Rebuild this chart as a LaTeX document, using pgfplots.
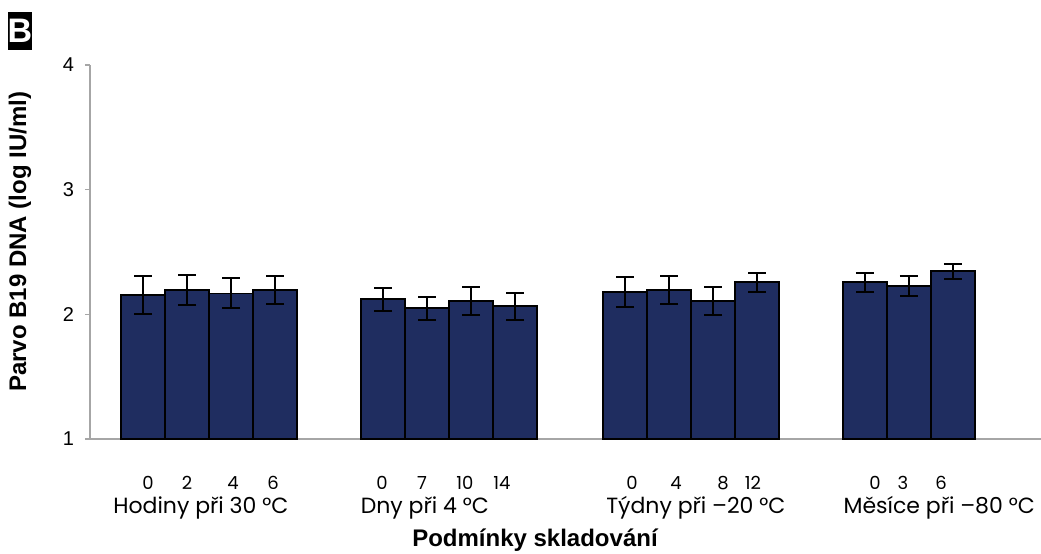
\documentclass[border=0pt]{standalone}
\usepackage{pgfplots}
\pgfplotsset{compat=1.18}
\usepackage{pgfplotstable}
\usepackage{fontspec}
\setmainfont{Liberation Sans}
\newfontfamily\pop{Poppins}
\definecolor{barblue}{RGB}{31,45,96}
\definecolor{axgray}{RGB}{166,166,166}

\pgfplotstableread{
x y err
1.21 2.155 0.15
2.21 2.195 0.12
3.21 2.168 0.12
4.21 2.195 0.11
6.66 2.120 0.09
7.66 2.048 0.09
8.66 2.107 0.11
9.66 2.064 0.11
12.16 2.181 0.12
13.16 2.195 0.11
14.16 2.107 0.11
15.16 2.257 0.075
17.61 2.257 0.075
18.61 2.229 0.08
19.61 2.345 0.06
}\datatable

\begin{document}
\begin{tikzpicture}
\path[use as bounding box] (-45pt,-57pt) rectangle (475.5pt,219.5pt);
\begin{axis}[
  at={(0,0)}, anchor=south west,
  x=22pt, y=62.35pt,
  xmin=0, xmax=21.61, ymin=1, ymax=4,
  axis lines*=left,
  axis line style={draw=axgray, line width=0.7pt, -},
  clip=false,
  ytick={1,2,3,4},
  /pgf/number format/assume math mode=true,
  yticklabel style={font=\fontsize{10}{11}\selectfont, xshift=-2pt},
  ytick style={draw=axgray, line width=0.7pt},
  tick align=outside,
  major tick length=2.5pt,
  xtick={1.318,2.205,3.25,4.159,6.636,7.545,8.523,9.364,12.318,13.318,14.386,15.068,17.84,18.477,19.341},
  xticklabels={0,2,4,6,0,7,10,14,0,4,8,12,0,3,6},
  x tick style={draw=none},
  xticklabel style={font=\pop\fontsize{9}{10}\selectfont, anchor=center, yshift=-19.5pt},
  extra x ticks={0,5.48,10.96,16.44},
  extra x tick labels={},
  extra x tick style={tick style={draw=axgray, line width=0.7pt}, major tick length=2.5pt},
  ylabel={Parvo B19 DNA (log IU/ml)},
  ylabel style={font=\bfseries\fontsize{12}{14}\selectfont, at={(axis description cs:-0.0736,0.527)}, anchor=center},
  xlabel={Podmínky skladování},
  xlabel style={font=\bfseries\fontsize{12}{14}\selectfont, at={(axis description cs:0.468,0)}, anchor=center, yshift=-50.5pt},
]
\addplot[ybar, bar width=22pt, fill=barblue, draw=black, line width=0.85pt,
  error bars/.cd, y dir=both, y explicit,
  error bar style={line width=1pt, black},
  error mark options={rotate=90, mark size=4.5pt, line width=1pt, black}]
  table[x=x, y=y, y error=err]{\datatable};
\node[font=\pop\fontsize{11}{12}\selectfont, anchor=base] at (axis cs:2.52,1) [yshift=-37pt] {Hodiny při 30 °C};
\node[font=\pop\fontsize{11}{12}\selectfont, anchor=base] at (axis cs:7.61,1) [yshift=-37pt] {Dny při 4 °C};
\node[font=\pop\fontsize{11}{12}\selectfont, anchor=base] at (axis cs:13.77,1) [yshift=-37pt] {Týdny při –20 °C};
\node[font=\pop\fontsize{11}{12}\selectfont, anchor=base] at (axis cs:19.30,1) [yshift=-37pt] {Měsíce při –80 °C};
\end{axis}
\node[fill=black, text=white, font=\bfseries\fontsize{17}{17}\selectfont, inner sep=0pt, minimum width=12pt, minimum height=19pt] at (-35pt,204pt) {B};
\end{tikzpicture}
\end{document}
